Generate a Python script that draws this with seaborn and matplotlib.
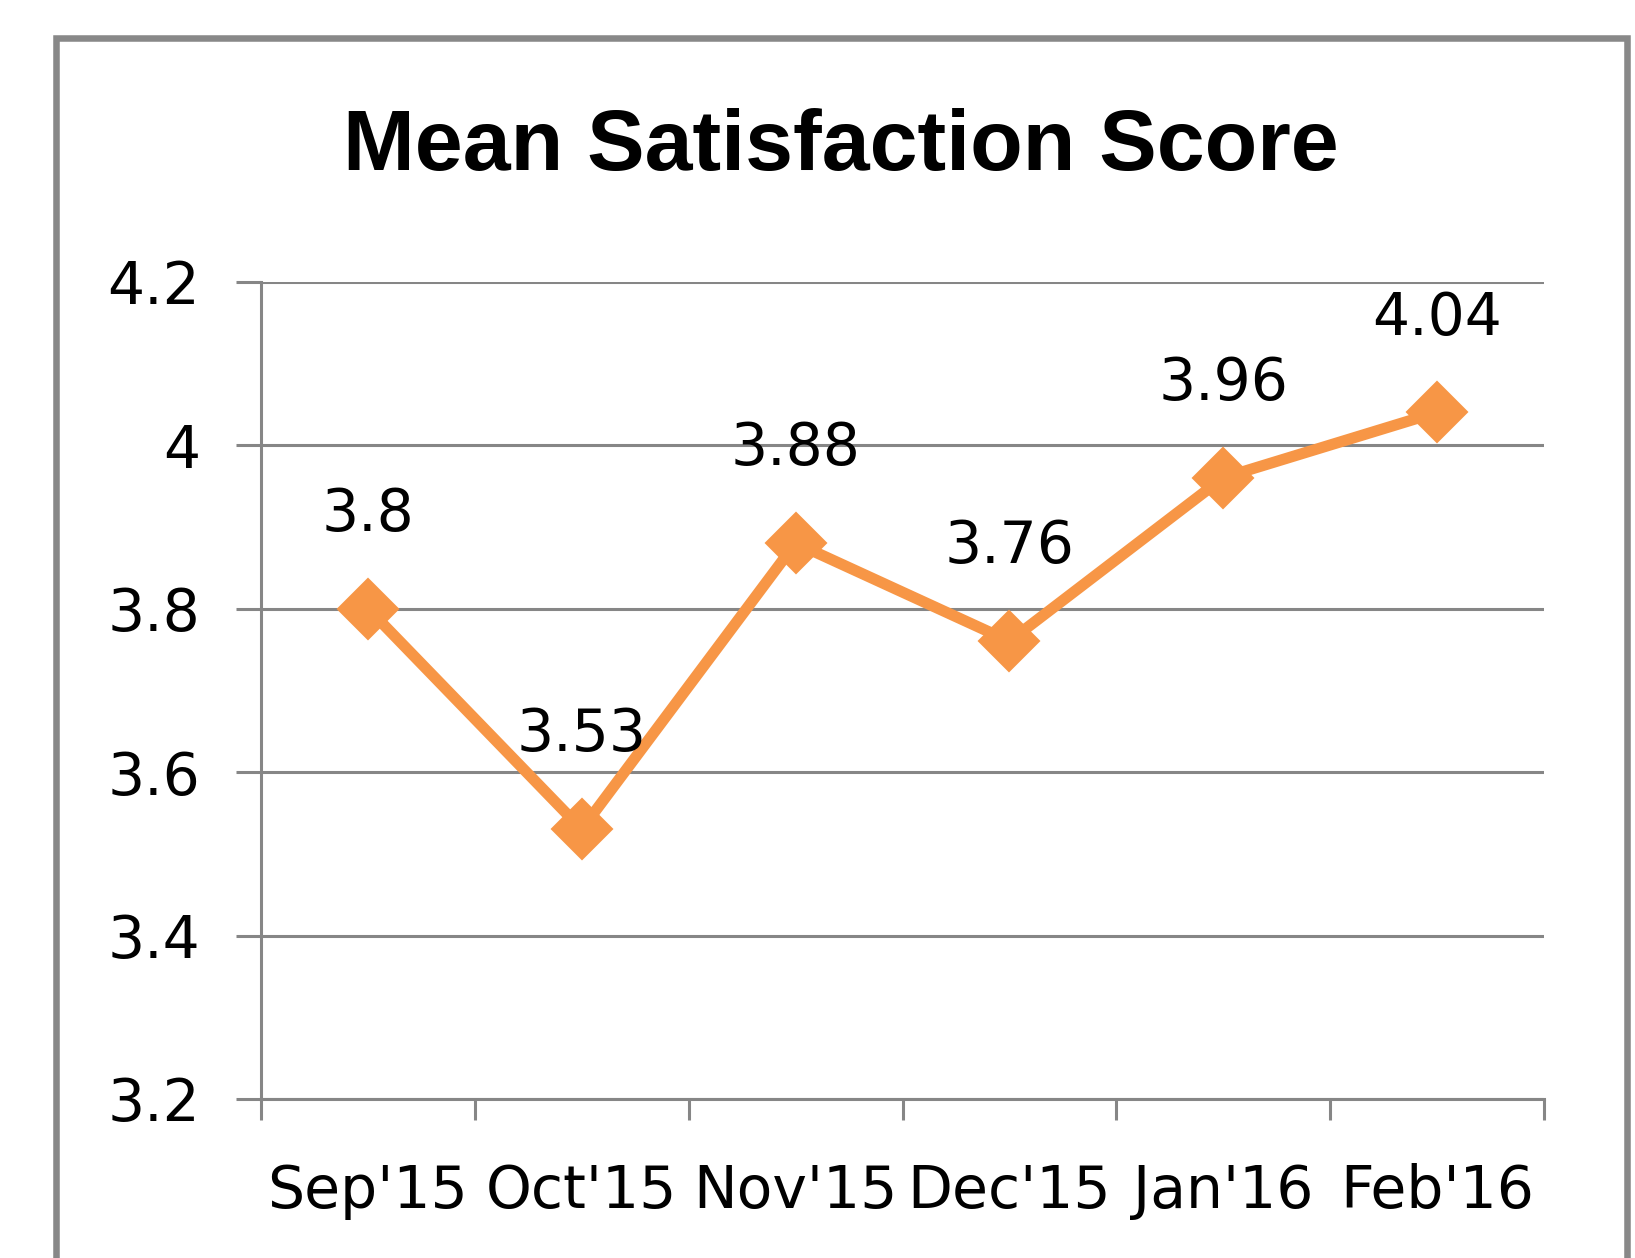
import pandas as pd
import seaborn as sns
from matplotlib import pyplot as plt
from matplotlib.patches import Rectangle
from matplotlib.ticker import FixedLocator

# data
months = ["Sep'15", "Oct'15", "Nov'15", "Dec'15", "Jan'16", "Feb'16"]
scores = [3.8, 3.53, 3.88, 3.76, 3.96, 4.04]
y_ticks = [3.2, 3.4, 3.6, 3.8, 4.0, 4.2]
y_tick_labels = ["3.2", "3.4", "3.6", "3.8", "4", "4.2"]

df = pd.DataFrame({"Month": months, "Score": scores})

sns.set_style("white")
plt.rcParams["font.family"] = ["DejaVu Sans"]
plt.rcParams["text.color"] = "black"

W, H = 1635, 1258
fig = plt.figure(figsize=(W / 100, H / 100), dpi=100)
ax = fig.add_axes([261 / W, 1 - 1099 / H, (1544 - 261) / W, (1099 - 281.5) / H])

orange = "#F79646"
grey = "#868686"

sns.lineplot(data=df, x="Month", y="Score", ax=ax, sort=False, color=orange,
             linewidth=8, marker="D", markersize=31, markeredgewidth=1.5,
             markeredgecolor=orange, zorder=3)

# value labels above each point
for i, v in enumerate(scores):
    ax.annotate("{:g}".format(v), (i, v), xytext=(0, 56), textcoords="offset points",
                ha="center", va="baseline", fontsize=42, color="black", zorder=4)

ax.set_xlim(-0.5, 5.5)
ax.set_ylim(3.2, 4.2)
ax.set_yticks(y_ticks)
ax.set_yticklabels(y_tick_labels)
ax.set_xticks(range(len(months)))
ax.set_xticklabels(months)
ax.xaxis.set_minor_locator(FixedLocator([i - 0.5 for i in range(len(months) + 1)]))
ax.set_xlabel("")
ax.set_ylabel("")

ax.yaxis.grid(True, color=grey, linewidth=2.2)
ax.set_axisbelow(True)
ax.tick_params(axis="y", which="major", direction="out", length=18, width=2.2,
               color=grey, pad=26, labelsize=42, labelcolor="black", left=True)
ax.tick_params(axis="x", which="major", length=0, pad=46, labelsize=42,
               labelcolor="black")
ax.tick_params(axis="x", which="minor", direction="out", length=15, width=2.2,
               color=grey, bottom=True)

for side in ["top", "right"]:
    ax.spines[side].set_visible(False)
for side in ["left", "bottom"]:
    ax.spines[side].set_color(grey)
    ax.spines[side].set_linewidth(2.2)

# title, centred on the chart frame
fig.text(841 / W, 1 - 170 / H, "Mean Satisfaction Score", ha="center", va="baseline",
         fontsize=62, fontweight="bold", color="black",
         family=["Liberation Sans", "DejaVu Sans"])

# outer chart frame (bottom edge runs off the picture)
frame = Rectangle((56 / W, -0.1), (1626.5 - 56) / W, 1.1 - 38 / H,
                  transform=fig.transFigure, fill=False, edgecolor="#888888",
                  linewidth=4.7, clip_on=False)
fig.patches.append(frame)

fig.savefig("out.png", dpi=100)
